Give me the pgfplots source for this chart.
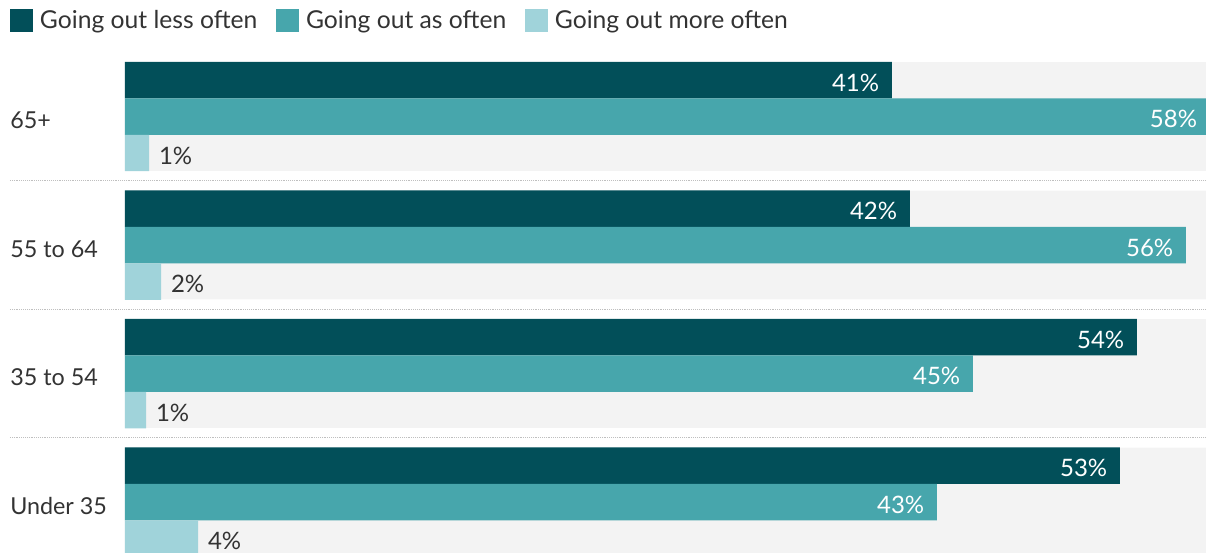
\documentclass[border=0pt]{standalone}
\usepackage{fontspec}
\setmainfont{Lato}
\usepackage{pgfplots}
\pgfplotsset{compat=1.18}
\definecolor{cdark}{RGB}{2,79,89}
\definecolor{cmid}{RGB}{71,166,172}
\definecolor{clight}{RGB}{160,211,218}
\definecolor{cbg}{RGB}{243,243,243}
\definecolor{ctext}{RGB}{51,51,51}
\begin{document}
\begin{tikzpicture}
\begin{axis}[name=a, scale only axis, width=810.75pt, height=414pt,
  xmin=0, xmax=57.6, ymin=-0.9066, ymax=3.3891, y dir=reverse,
  xbar, bar width=0.284, clip=false,
  axis line style={draw=none}, xtick=\empty, ytick={0,1,2,3},
  yticklabels={65+,55 to 64,35 to 54,Under 35}, major tick length=0pt,
  yticklabel style={anchor=west, inner sep=0pt, xshift=-86.25pt, yshift=-3pt, font=\fontsize{17.5}{20}\selectfont, text=ctext},
  /pgf/number format/assume math mode=true,
  point meta=explicit,
  legend style={draw=none, fill=none, legend columns=3, inner sep=0pt, outer sep=0pt,
    /tikz/every odd column/.append style={column sep=5.25pt},
    /tikz/every even column/.append style={column sep=14pt},
    nodes={inner sep=0pt, font=\fontsize{18.5}{21}\selectfont, text=ctext},
    at={(axis description cs:-0.1064,0.9837)}, anchor=north west},
  legend cell align=left,
  legend image code/.code={\fill[#1] (0pt,-8.6pt) rectangle (17.25pt,8.6pt);},
]
\addplot[fill=cbg, draw=none, bar width=0.848, bar shift=0, forget plot, point meta=none] coordinates {(57.6,0) (57.6,1) (57.6,2) (57.6,3)};
\draw[densely dotted, color=black!25] ([xshift=-86.25pt]axis cs:0,0.5) -- (axis cs:57.6,0.5);
\draw[densely dotted, color=black!25] ([xshift=-86.25pt]axis cs:0,1.5) -- (axis cs:57.6,1.5);
\draw[densely dotted, color=black!25] ([xshift=-86.25pt]axis cs:0,2.5) -- (axis cs:57.6,2.5);
\addplot[fill=cdark, draw=none, bar shift=-0.284,
  nodes near coords={\pgfmathprintnumber{\pgfplotspointmeta}\%},
  every node near coord/.append style={anchor=east, xshift=-6pt, yshift=-2pt, text=white, font=\fontsize{18}{20}\selectfont}]
  coordinates {(40.86,0) [41] (41.82,1) [42] (53.92,2) [54] (53.01,3) [53]};
\addlegendentry{Going out less often}
\addplot[fill=cmid, draw=none, bar shift=0,
  nodes near coords={\pgfmathprintnumber{\pgfplotspointmeta}\%},
  every node near coord/.append style={anchor=east, xshift=-6pt, yshift=-2pt, text=white, font=\fontsize{18}{20}\selectfont}]
  coordinates {(57.8,0) [58] (56.53,1) [56] (45.18,2) [45] (43.26,3) [43]};
\addlegendentry{Going out as often}
\addplot[fill=clight, draw=none, bar shift=0.284,
  nodes near coords={\pgfmathprintnumber{\pgfplotspointmeta}\%},
  every node near coord/.append style={anchor=west, xshift=4pt, yshift=-2pt, text=ctext, font=\fontsize{18}{20}\selectfont}]
  coordinates {(1.28,0) [1] (1.92,1) [2] (1.12,2) [1] (3.89,3) [4]};
\addlegendentry{Going out more often}
\end{axis}
\pgfresetboundingbox
\path ([xshift=-93.75pt]a.south west) rectangle (a.north east);
\end{tikzpicture}
\end{document}
